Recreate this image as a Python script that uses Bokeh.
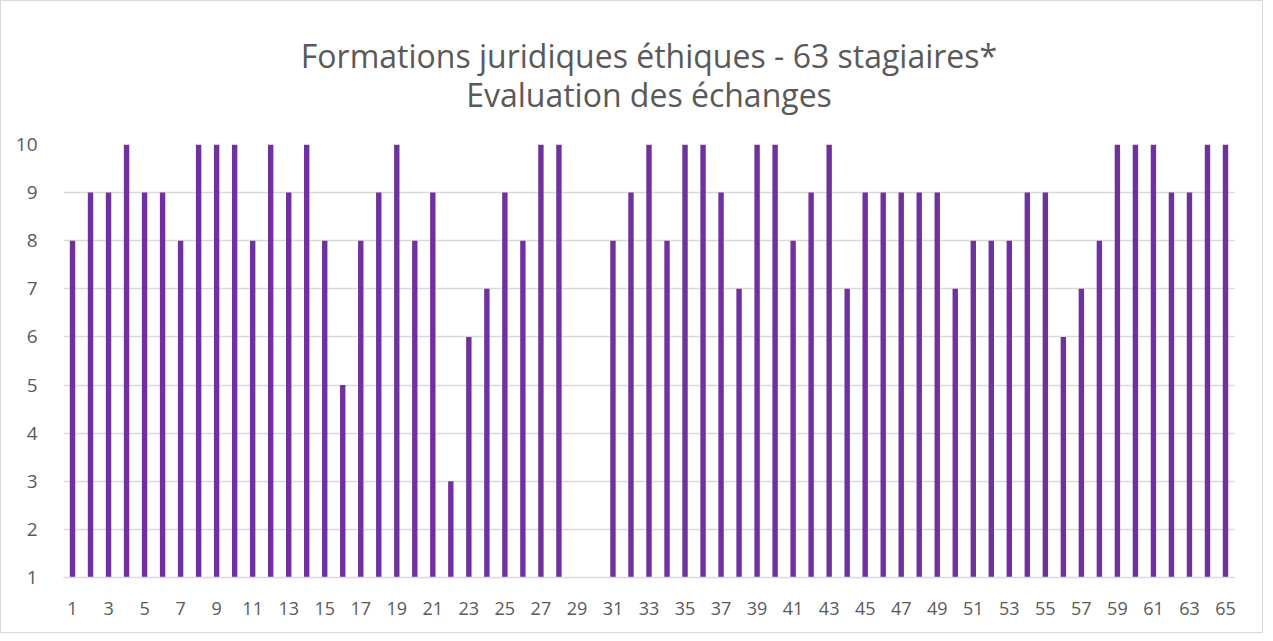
from bokeh.plotting import figure
from bokeh.models import FixedTicker, Range1d, Title, ColumnDataSource
from bokeh.embed import file_html
from bokeh.resources import INLINE

# Data
participants = list(range(1, 66))
scores = [8, 9, 9, 10, 9, 9, 8, 10, 10, 10, 8, 10, 9, 10, 8, 5, 8, 9, 10, 8,
          9, 3, 6, 7, 9, 8, 10, 10, None, None, 8, 9, 10, 8, 10, 10, 9, 7, 10, 10,
          8, 9, 10, 7, 9, 9, 9, 9, 9, 7, 8, 8, 8, 9, 9, 6, 7, 8, 10, 10,
          10, 9, 9, 10, 10]
y_ticks = list(range(1, 11))
x_ticks = list(range(1, 66, 2))
title_line1 = "Formations juridiques éthiques - 63 stagiaires*"
title_line2 = "Evaluation des échanges"

TXT = "#595959"
GRID = "#d9d9d9"
BAR = "#7030A0"
FONT = "Open Sans"

src = ColumnDataSource(dict(
    x=participants,
    top=[float("nan") if v is None else v for v in scores],
))

W, H = 1263, 633
p = figure(width=W, height=H, output_backend="svg", toolbar_location=None,
           x_range=Range1d(0.5, 65.5), y_range=Range1d(1, 10),
           min_border_left=62, min_border_right=30, min_border_bottom=57,
           min_border_top=143)
p.styles = {"border": "1px solid #d9d9d9"}

p.vbar(x="x", top="top", bottom=1, width=0.3, source=src,
       fill_color=BAR, line_color=None)

t = Title(text=title_line1 + "\n" + title_line2, align="center", text_font=FONT,
          text_font_size="32px", text_font_style="normal", text_color=TXT,
          text_line_height=0.9, standoff=57, offset=-19)
t.text_align = "center"
p.add_layout(t, "above")

p.outline_line_color = None
p.background_fill_color = "white"
p.border_fill_color = "white"

p.xaxis.ticker = FixedTicker(ticks=x_ticks)
p.yaxis.ticker = FixedTicker(ticks=y_ticks)
for ax in (p.xaxis, p.yaxis):
    ax.major_label_text_font = FONT
    ax.major_label_text_font_size = "18px"
    ax.major_label_text_color = TXT
    ax.major_tick_line_color = None
    ax.minor_tick_line_color = None
p.yaxis.major_label_text_font_size = "19px"
p.xaxis.axis_line_color = GRID
p.xaxis.axis_line_width = 1.5
p.yaxis.axis_line_color = None
p.xaxis.major_label_standoff = 18
p.yaxis.major_label_standoff = 20

p.xgrid.grid_line_color = None
p.ygrid.grid_line_color = GRID
p.ygrid.grid_line_width = 1.5

open("out.html", "w").write(file_html(p, INLINE))
